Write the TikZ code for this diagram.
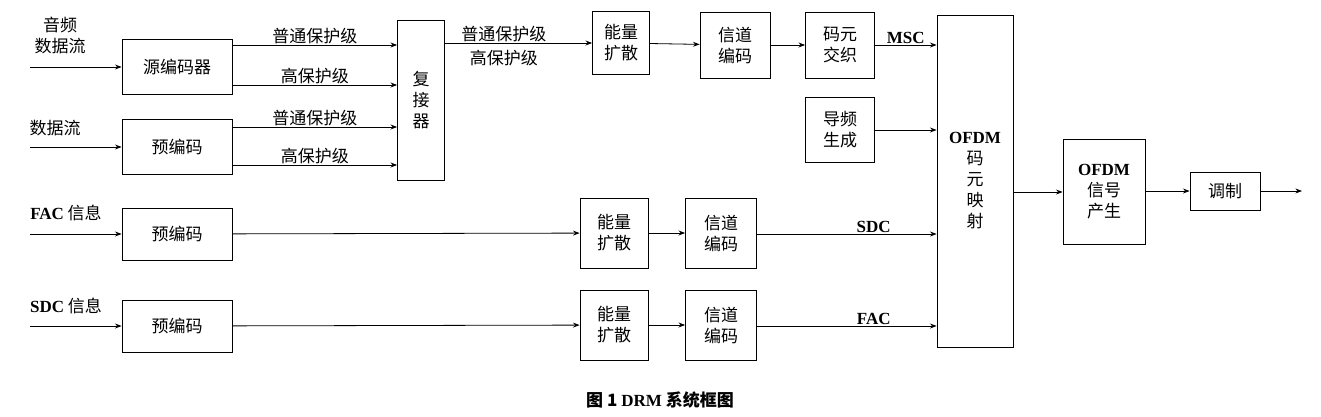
\documentclass[tikz,border=0pt]{standalone}
\usepackage{fontspec}
\setmainfont{Liberation Serif}
\newfontfamily\cjk{Noto Sans CJK SC}
\usetikzlibrary{positioning, arrows.meta}
\newcommand{\lat}[1]{{\rmfamily\bfseries #1}}

\begin{document}
\begin{tikzpicture}[x=1pt, y=-1pt, >=Stealth, font=\cjk\fontsize{17}{21}\selectfont,
    blk/.style={draw, thick, align=center, inner sep=0pt},
    lbl/.style={align=center, inner sep=1pt},
    every path/.style={thick}]
  \useasboundingbox (0,0) rectangle (1321,416);
  % input column
  \node[lbl] (tin1) at (60,35) {音频\\数据流};
  \node[lbl] (tin2) at (55,128) {数据流};
  \node[lbl] (tin3) at (66,213) {\lat{FAC} 信息};
  \node[lbl] (tin4) at (66,306) {\lat{SDC} 信息};
  \coordinate (in1) at (30,67);
  \coordinate (in2) at (30,147);
  \coordinate (in3) at (30,234);
  \coordinate (in4) at (30,326);
  % blocks
  \node[blk, minimum width=110, minimum height=55] (src) at (177,67) {源编码器};
  \node[blk, minimum width=110, minimum height=55] (pre1) at (177,147) {预编码};
  \node[blk, minimum width=110, minimum height=52] (pre2) at (177,234) {预编码};
  \node[blk, minimum width=110, minimum height=52] (pre3) at (177,326) {预编码};
  \node[blk, minimum width=47, minimum height=160] (mux) at (421,100) {复\\接\\器};
  \node[blk, minimum width=57, minimum height=63] (ed1) at (621,43) {能量\\扩散};
  \node[blk, minimum width=70, minimum height=66] (cc1) at (735,45) {信道\\编码};
  \node[blk, minimum width=69, minimum height=66] (il) at (840,45) {码元\\交织};
  \node[blk, minimum width=69, minimum height=65] (pil) at (840,130) {导频\\生成};
  \node[blk, minimum width=68, minimum height=70] (ed2) at (614,233) {能量\\扩散};
  \node[blk, minimum width=71, minimum height=70] (cc2) at (721,233) {信道\\编码};
  \node[blk, minimum width=68, minimum height=70] (ed3) at (614,325) {能量\\扩散};
  \node[blk, minimum width=71, minimum height=70] (cc3) at (721,325) {信道\\编码};
  \node[blk, minimum width=76, minimum height=332] (map) at (975,181) {\lat{OFDM}\\码\\元\\映\\射};
  \node[blk, minimum width=82, minimum height=105] (gen) at (1104,192) {\lat{OFDM}\\信号\\产生};
  \node[blk, minimum width=70, minimum height=38] (mod) at (1225,191) {调制};
  \coordinate (out) at (1302,191);
  % connectors
  \draw[->] (in1) -- (src.west |- in1);
  \draw[->] (in2) -- (pre1.west |- in2);
  \draw[->] (in3) -- (pre2.west |- in3);
  \draw[->] (in4) -- (pre3.west |- in4);
  \draw[->] (src.east |- 0,45) -- node[lbl, above] {普通保护级} (mux.west |- 0,45);
  \draw[->] (src.east |- 0,85) -- node[lbl, above] {高保护级} (mux.west |- 0,85);
  \draw[->] (pre1.east |- 0,127) -- node[lbl, above] {普通保护级} (mux.west |- 0,127);
  \draw[->] (pre1.east |- 0,165) -- node[lbl, above] {高保护级} (mux.west |- 0,165);
  \draw[->] (mux.east |- ed1) -- node[lbl, above, pos=0.4] {普通保护级} node[lbl, below=6pt, pos=0.4] {高保护级} (ed1);
  \draw[->] (ed1) -- (cc1);
  \draw[->] (cc1) -- (il);
  \draw[->] (il) -- node[lbl, above] {\lat{MSC}} (map.west |- il);
  \draw[->] (pil) -- (map.west |- pil);
  \draw[->] (pre2) -- (ed2);
  \draw[->] (ed2) -- (cc2);
  \draw[->] (cc2.east |- in3) -- node[lbl, above, pos=0.65] {\lat{SDC}} (map.west |- in3);
  \draw[->] (pre3) -- (ed3);
  \draw[->] (ed3) -- (cc3);
  \draw[->] (cc3.east |- in4) -- node[lbl, above, pos=0.65] {\lat{FAC}} (map.west |- in4);
  \draw[->] (map.east |- gen) -- (gen);
  \draw[->] (gen.east |- mod) -- (mod);
  \draw[->] (mod) -- (out);
  % caption
  \node[lbl, font=\cjk\bfseries\fontsize{17}{20}\selectfont] (cap) at (660,400) {图 1 \lat{DRM} 系统框图};
\end{tikzpicture}
\end{document}
